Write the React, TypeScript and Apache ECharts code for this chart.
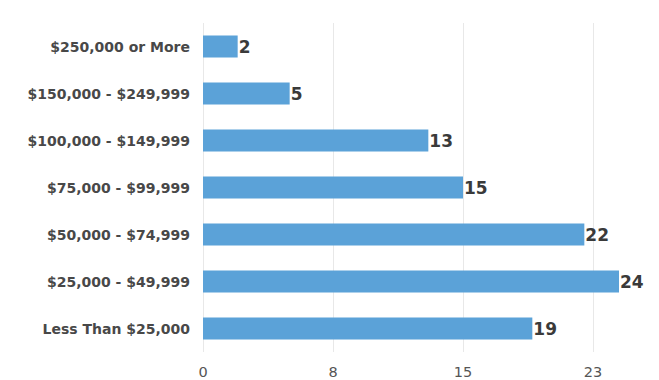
import React, { useEffect, useRef } from "react";
import * as echarts from "echarts";

const categories = [
  "Less Than $25,000",
  "$25,000 - $49,999",
  "$50,000 - $74,999",
  "$75,000 - $99,999",
  "$100,000 - $149,999",
  "$150,000 - $249,999",
  "$250,000 or More",
];
const values = [19, 24, 22, 15, 13, 5, 2];
const axisMin = 0;
const axisMax = 30;
const axisStep = 7.5;

export default function App() {
  const ref = useRef<HTMLDivElement>(null);
  useEffect(() => {
    if (!ref.current) return;
    const chart = echarts.init(ref.current, null, { renderer: "svg" });
    chart.setOption({
      animation: false,
      backgroundColor: "#ffffff",
      grid: { left: 203, right: 17, top: 23, bottom: 28, containLabel: false },
      xAxis: {
        type: "value",
        min: axisMin,
        max: axisMax,
        interval: axisStep,
        axisLine: { show: false },
        axisTick: { show: false },
        splitLine: { show: true, lineStyle: { color: "#e8e8e8", width: 1 } },
        axisLabel: {
          color: "#555555",
          fontFamily: "DejaVu Sans",
          fontSize: 14.5,
          margin: 12,
          showMaxLabel: false,
          formatter: (v: number) => (v >= axisMax ? "" : String(Math.round(v))),
        },
      },
      yAxis: {
        type: "category",
        data: categories,
        axisLine: { show: false },
        axisTick: { show: false },
        axisLabel: {
          color: "#484848",
          fontFamily: "DejaVu Sans",
          fontWeight: "bold",
          fontSize: 14,
          margin: 13,
        },
      },
      series: [
        {
          type: "bar",
          data: values,
          barWidth: 22,
          itemStyle: { color: "#5ba2d8" },
          label: {
            show: true,
            position: "right",
            distance: 1,
            color: "#3a3a3a",
            fontFamily: "DejaVu Sans",
            fontWeight: "bold",
            fontSize: 17,
          },
        },
      ],
    });
    return () => chart.dispose();
  }, []);
  return (
    <div
      ref={ref}
      style={{ position: "fixed", left: 0, top: 0, width: 740, height: 380 }}
    />
  );
}
